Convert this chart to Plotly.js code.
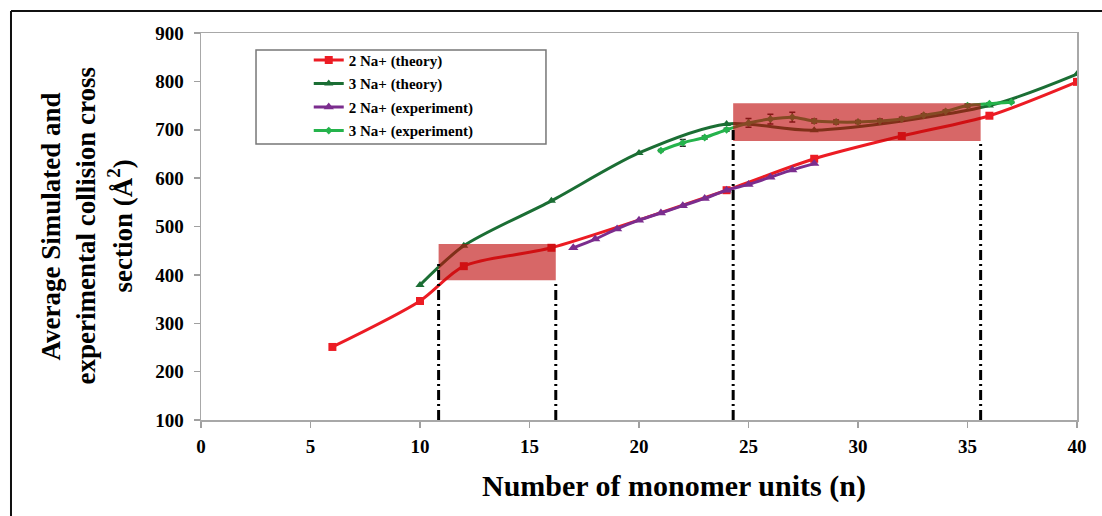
<!DOCTYPE html>
<html>
<head>
<meta charset="utf-8">
<script src="https://cdn.plot.ly/plotly-3.0.1.min.js"></script>
<style>html,body{margin:0;padding:0;background:#fff;}#chart{width:1102px;height:516px;}</style>
</head>
<body>
<div id="chart"></div>
<script>
// ---- data ----
var n2Theory = [6, 10, 12, 16, 24, 28, 32, 36, 40];
var ccs2Theory = [251, 346, 418, 456, 575, 640, 687, 729, 799];

var n3Theory = [10, 12, 16, 20, 24, 28, 36, 40];
var ccs3Theory = [379, 460, 553, 652, 712, 699, 750, 815];

var n2Exp = [17, 18, 19, 20, 21, 22, 23, 24, 25, 26, 27, 28];
var ccs2Exp = [456, 474, 495, 513, 528, 543, 558, 575, 587, 602, 617, 630];

var n3Exp = [21, 22, 23, 24, 25, 26, 27, 28, 29, 30, 31, 32, 33, 34, 35, 36, 37];
var ccs3Exp = [657, 673, 684, 700, 714, 722, 726, 718, 716, 716, 718, 722, 730, 738, 750, 754, 757];
var err3Exp = [2, 7, 3, 3, 9, 10, 10, 4, 4, 3, 4, 4, 3, 3, 3, 2, 2];

var seriesNames = ["2 Na+ (theory)", "3 Na+ (theory)", "2 Na+ (experiment)", "3 Na+ (experiment)"];

// highlighted regions (n range, CCS range)
var regionStart = [10.85, 24.3];
var regionEnd = [16.2, 35.6];
var regionLow = [389, 677];
var regionHigh = [464, 755];
// vertical dash-dot guide lines
var guideX = [10.85, 16.2, 24.3, 35.6];
var guideTop = [428, 389, 706, 677];

var xTickVals = [0, 5, 10, 15, 20, 25, 30, 35, 40];
var yTickVals = [100, 200, 300, 400, 500, 600, 700, 800, 900];

var xTitle = "Number of monomer units (n)";
var yTitleLines = ["Average Simulated and", "experimental collision cross", "section (Å<sup>2</sup>)"];

// ---- styling ----
var serif = "Liberation Serif, Times New Roman, serif";
var cRed = "#ec1c24", cDark = "#1b6e34", cPurple = "#7b2d8e", cLight = "#25b34c";

function tr(x, y, name, color, sym, size, grp) {
  return {x: x, y: y, name: name, type: "scatter", mode: "lines+markers",
    line: {color: color, width: 3, shape: "spline", smoothing: 0.8},
    marker: {color: color, symbol: sym, size: size},
    legendgroup: grp};
}
var t1 = tr(n2Theory, ccs2Theory, seriesNames[0], cRed, "square", 8, "a");
var t2 = tr(n3Theory, ccs3Theory, seriesNames[1], cDark, "triangle-up", 8, "b");
var t3 = tr(n2Exp, ccs2Exp, seriesNames[2], cPurple, "triangle-up", 9, "c");
var t4 = tr(n3Exp, ccs3Exp, seriesNames[3], cLight, "diamond", 6, "d");
t4.error_y = {type: "data", array: err3Exp, visible: true, color: "#2a2a2a", thickness: 1.5, width: 3};

var shapes = [];
for (var i = 0; i < regionStart.length; i++) {
  shapes.push({type: "rect", xref: "x", yref: "y", x0: regionStart[i], x1: regionEnd[i],
    y0: regionLow[i], y1: regionHigh[i], fillcolor: "rgba(190,10,10,0.62)", line: {width: 0}, layer: "above"});
}
for (var j = 0; j < guideX.length; j++) {
  shapes.push({type: "line", xref: "x", yref: "y", x0: guideX[j], x1: guideX[j], y0: 100, y1: guideTop[j],
    line: {color: "#000", width: 3, dash: "10px,4px,2px,4px"}, layer: "above"});
}
// legend frame
shapes.push({type: "rect", xref: "paper", yref: "paper", x0: 0.0628, x1: 0.3938, y0: 0.713, y1: 0.956,
  line: {color: "#777", width: 1.5}, fillcolor: "rgba(0,0,0,0)"});
// outer frame lines
shapes.push({type: "line", xref: "paper", yref: "paper", x0: -0.2169, x1: 1.05, y0: 1.0568, y1: 1.0568, line: {color: "#111", width: 2}});
shapes.push({type: "line", xref: "paper", yref: "paper", x0: -0.2169, x1: -0.2169, y0: 1.0568, y1: -0.26, line: {color: "#111", width: 2}});

var annotations = [];
annotations.push({text: xTitle, xref: "paper", yref: "paper", x: 0.54, y: -0.17, xanchor: "center", yanchor: "middle",
  showarrow: false, font: {family: serif, size: 30, color: "#000", weight: "bold"}});
var yTitleX = [50, 85, 120];
for (var k = 0; k < yTitleLines.length; k++) {
  annotations.push({text: yTitleLines[k], xref: "paper", yref: "paper", x: (yTitleX[k] - 201) / 876, y: 0.5,
    xanchor: "center", yanchor: "middle", textangle: -90, showarrow: false,
    font: {family: serif, size: 27, color: "#000", weight: "bold"}});
}

var layout = {
  width: 1102, height: 516,
  margin: {l: 201, r: 25, t: 33, b: 96, pad: 0},
  paper_bgcolor: "#fff", plot_bgcolor: "#fff",
  showlegend: true,
  legend: {x: 0.123, y: 0.972, xanchor: "left", yanchor: "top", bgcolor: "rgba(0,0,0,0)",
    font: {family: serif, size: 15, color: "#000", weight: "bold"}, traceorder: "grouped", tracegroupgap: 1,
    itemwidth: 30},
  xaxis: {range: [0, 40], tickvals: xTickVals, showgrid: false, zeroline: false,
    showline: true, linecolor: "#a8a8a8", linewidth: 1.5, mirror: true,
    ticks: "outside", ticklen: 6, tickcolor: "#a0a0a0", tickwidth: 1.5, ticklabelstandoff: 3,
    tickfont: {family: serif, size: 19, color: "#000", weight: "bold"}},
  yaxis: {range: [100, 900], tickvals: yTickVals, showgrid: false, zeroline: false,
    showline: true, linecolor: "#a8a8a8", linewidth: 1.5, mirror: true,
    ticks: "outside", ticklen: 6, tickcolor: "#a0a0a0", tickwidth: 1.5, ticklabelstandoff: 6,
    tickfont: {family: serif, size: 19, color: "#000", weight: "bold"}},
  shapes: shapes,
  annotations: annotations
};

Plotly.newPlot("chart", [t1, t2, t3, t4], layout, {displayModeBar: false, staticPlot: true});
</script>
</body>
</html>
